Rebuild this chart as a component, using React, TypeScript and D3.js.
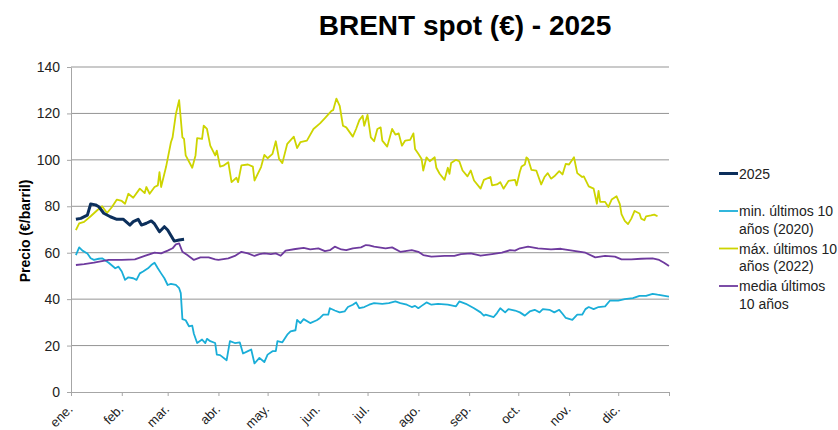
import React, { useEffect, useRef } from "react";
import * as d3 from "d3";

// Month labels (Spanish, as in the source chart)
const monthLabels = ["ene.", "feb.", "mar.", "abr.", "may.", "jun.", "jul.", "ago.", "sep.", "oct.", "nov.", "dic."];
const yTicks = [0, 20, 40, 60, 80, 100, 120, 140];

// Series: day of year (0 = 1 Jan) and price in €/barril
const days2025 = [3, 6, 10, 12, 15, 17, 20, 24, 28, 32, 36, 38, 41, 43, 46, 49, 51, 54, 57, 59, 63, 66, 69];
const values2025 = [74.4, 74.8, 76.2, 81, 80.6, 79.8, 77, 75.5, 74.4, 74.4, 71.9, 73.4, 74.4, 71.9, 72.7, 73.7, 72.4, 69, 71.2, 69.8, 65, 65.5, 65.8];

const daysMin = [3, 5, 7, 10, 12, 14, 17, 19, 23, 27, 29, 31, 33, 35, 38, 40, 42, 44, 47, 49, 51, 53, 55, 57, 59, 61, 64, 66, 67, 68, 70, 72, 74, 75, 77, 80, 82, 83, 85, 88, 89, 91, 95, 97, 100, 103, 105, 108, 110, 112, 115, 118, 120, 123, 125, 126, 129, 132, 134, 137, 138, 140, 142, 146, 150, 152, 154, 157, 158, 161, 164, 167, 169, 172, 174, 176, 179, 182, 185, 190, 194, 198, 201, 203, 205, 208, 210, 212, 214, 217, 220, 224, 230, 235, 237, 241, 246, 250, 252, 253, 258, 260, 262, 265, 267, 271, 274, 277, 280, 283, 286, 288, 292, 295, 298, 300, 302, 306, 309, 312, 314, 316, 319, 322, 326, 329, 334, 338, 343, 347, 351, 355, 358, 365];
const valuesMin = [59, 62.3, 60.9, 59.7, 57.6, 56.9, 57.4, 57.6, 55.7, 53.3, 54, 51.9, 48.3, 49.4, 49, 48.3, 51.1, 51.9, 53.3, 54.7, 55.7, 53.3, 51.1, 49, 46.1, 46.6, 46.1, 44.7, 42.6, 31.4, 30.9, 28.3, 28.6, 25.1, 21.1, 22.6, 21.1, 22.9, 21.9, 21.1, 16.1, 15.9, 13.7, 21.9, 21.1, 21.4, 16.6, 17.6, 18.3, 12.3, 14.7, 12.9, 16.1, 17.6, 17.6, 21.9, 21.4, 24.7, 26.1, 26.6, 31.1, 29.7, 31.4, 29.7, 30.9, 31.9, 33.3, 33.3, 36.1, 35.1, 34.3, 34.7, 36.6, 37.6, 38.6, 36.1, 36.6, 37.6, 38.3, 38, 38.3, 39, 38.3, 38, 37.6, 36.6, 37.1, 36.1, 37.1, 38.6, 37.6, 38, 37.6, 36.9, 39, 38, 36.1, 34.3, 32.9, 33.3, 32.3, 34, 36.1, 34.3, 35.7, 35.1, 34.3, 32.9, 34.7, 35.4, 34.3, 35.7, 35.4, 34.3, 35.4, 33.7, 31.9, 31.1, 33.3, 33.3, 35.7, 36.6, 35.7, 36.6, 36.9, 39.4, 39.4, 40, 40.4, 41.4, 41.4, 42.3, 41.9, 41.1];

const daysMax = [3, 5, 8, 12, 16, 19, 22, 25, 28, 31, 33, 35, 38, 42, 45, 46, 48, 51, 53, 54, 55, 58, 61, 62, 64, 66, 68, 69, 70, 74, 76, 77, 80, 81, 83, 85, 88, 89, 91, 93, 96, 98, 101, 102, 104, 108, 111, 112, 116, 118, 120, 123, 125, 127, 129, 132, 136, 138, 140, 144, 148, 152, 155, 159, 160, 162, 164, 166, 168, 172, 174, 176, 178, 179, 181, 183, 185, 187, 189, 190, 193, 196, 198, 200, 202, 204, 207, 209, 210, 212, 214, 215, 217, 219, 222, 223, 225, 228, 230, 231, 232, 235, 237, 239, 242, 244, 246, 250, 252, 256, 257, 260, 262, 264, 267, 271, 272, 274, 275, 277, 278, 279, 281, 284, 287, 289, 291, 293, 295, 298, 300, 302, 304, 307, 309, 312, 313, 316, 319, 321, 322, 323, 326, 328, 330, 333, 335, 336, 338, 340, 342, 344, 347, 348, 350, 351, 354, 356, 358];
const valuesMax = [69.7, 72.6, 73.3, 75.7, 78.3, 80, 77.1, 79.7, 82.9, 82.3, 81.1, 85.4, 83.7, 87.6, 85.7, 88.3, 85.4, 88.3, 89, 94.7, 88.3, 96.9, 107.6, 109.7, 119.7, 125.7, 109.7, 109, 101.9, 96.6, 101.9, 109.4, 109, 114.7, 113.3, 106.1, 101.9, 104, 97.1, 97.5, 99, 90.4, 92.3, 90.4, 97.6, 98, 97.1, 91.1, 96.9, 102.1, 100.7, 102.6, 108, 100.4, 98.6, 106.9, 110, 105.1, 107.6, 108.3, 113.3, 115.7, 118, 121.1, 121.4, 126.4, 123.3, 114.7, 114, 110, 113.3, 117.1, 119, 114.7, 119.4, 109.7, 108, 113.3, 114, 108.3, 105.7, 113.3, 110.9, 111.4, 106.1, 108.3, 108.6, 111.4, 104.7, 102.6, 100.4, 95.4, 101.1, 99.4, 101.1, 96.6, 94, 91.4, 96.6, 94, 98.6, 100, 99.4, 95.4, 92.9, 95.4, 91.1, 87.6, 91.4, 92.6, 89, 89.4, 90.4, 87.6, 90.9, 91.4, 89, 95, 97.1, 98, 101.1, 100.4, 95.7, 95.4, 89.4, 92.6, 94.3, 91.9, 92.9, 95.1, 93.7, 98.3, 98, 101.1, 94.3, 92.6, 92.9, 88.6, 87.6, 81.1, 86.6, 81.9, 81.9, 79.7, 82.9, 84.3, 80.9, 76.6, 73.7, 72.3, 74.7, 78, 76.9, 74.7, 74, 75.7, 76.1, 76.4, 75.7];

const daysMedia = [3, 8, 14, 23, 31, 39, 45, 51, 55, 59, 62, 64, 66, 68, 71, 75, 79, 84, 88, 90, 96, 100, 104, 108, 112, 115, 118, 122, 125, 128, 131, 137, 142, 146, 151, 155, 158, 161, 165, 168, 172, 177, 180, 182, 185, 192, 196, 201, 208, 212, 215, 220, 228, 234, 238, 244, 250, 257, 263, 268, 271, 274, 279, 285, 293, 299, 306, 314, 320, 326, 332, 336, 342, 348, 355, 359, 362, 365];
const valuesMedia = [54.7, 55.1, 55.7, 56.9, 56.9, 57.1, 58.6, 60, 59.7, 60.9, 61.9, 63.6, 64, 60.4, 59, 56.9, 58, 58, 57.1, 56.9, 57.6, 58.6, 60.4, 59.7, 58.6, 59.4, 59.7, 59.4, 59.7, 58.7, 60.9, 61.6, 62.1, 61.4, 61.9, 60.7, 61.1, 62.6, 61.4, 61.1, 61.9, 62.3, 63.3, 63.2, 62.6, 61.9, 62.3, 60.4, 61.1, 60.4, 59, 58.3, 58.6, 58.6, 59.4, 59.7, 58.7, 59.4, 60, 61.1, 60.9, 61.9, 62.6, 61.9, 61.4, 61.7, 60.9, 60, 58, 58.6, 58.3, 57.1, 57.1, 57.4, 57.6, 56.9, 55.7, 54.3];

const seriesNames = [["2025"], ["min. últimos 10", "años (2020)"], ["máx. últimos 10", "años (2022)"], ["media últimos", "10 años"]];
const seriesColors = ["#0c2f5b", "#1aaed8", "#cdd400", "#6e3a9e"];

const WIDTH = 838;
const HEIGHT = 430;
const FONT = "'Liberation Sans', Arial, sans-serif";

const App: React.FC = () => {
  const svgRef = useRef<SVGSVGElement>(null);

  useEffect(() => {
    document.body.style.margin = "0";
    if (!svgRef.current) return;
    const svg = d3.select(svgRef.current);
    svg.selectAll("*").remove();

    const start = new Date(2025, 0, 1);
    const end = new Date(2026, 0, 1);
    const dayToDate = (d: number) => new Date(2025, 0, 1 + d);

    const x = d3.scaleTime().domain([start, end]).range([71, 669]);
    const y = d3.scaleLinear().domain([0, 140]).range([392, 67]);

    // horizontal gridlines
    svg
      .append("g")
      .selectAll("line")
      .data(yTicks.filter((t) => t > 0))
      .enter()
      .append("line")
      .attr("x1", 71)
      .attr("x2", 669)
      .attr("y1", (d) => y(d))
      .attr("y2", (d) => y(d))
      .attr("stroke", "#959595")
      .attr("stroke-width", 1);

    // y axis
    const yAxis = svg
      .append("g")
      .attr("transform", "translate(71,0)")
      .call(d3.axisLeft(y).tickValues(yTicks).tickSize(4).tickSizeOuter(0).tickPadding(7));
    yAxis.select(".domain").attr("stroke", "#a6a6a6");
    yAxis.selectAll(".tick line").attr("stroke", "#a6a6a6");
    yAxis
      .selectAll("text")
      .style("font-family", FONT)
      .style("font-size", "14px")
      .attr("fill", "#222");

    // x axis
    const monthTicks = d3.timeMonth.range(start, d3.timeDay.offset(end, 1));
    const xAxis = svg
      .append("g")
      .attr("transform", "translate(0,392)")
      .call(
        d3
          .axisBottom(x)
          .tickValues(monthTicks)
          .tickSize(4)
          .tickSizeOuter(0)
          .tickFormat((d) => {
            const dt = d as Date;
            return dt.getFullYear() === 2025 ? monthLabels[dt.getMonth()] : "";
          })
      );
    xAxis.select(".domain").attr("stroke", "#a6a6a6");
    xAxis.selectAll(".tick line").attr("stroke", "#a6a6a6");
    xAxis
      .selectAll("text")
      .attr("x", null)
      .attr("y", null)
      .attr("dy", null)
      .attr("text-anchor", "end")
      .attr("transform", "translate(2,18) rotate(-45)")
      .style("font-family", FONT)
      .style("font-size", "13px")
      .attr("fill", "#222");

    // lines
    const line = d3
      .line<[number, number]>()
      .x((d) => x(dayToDate(d[0])))
      .y((d) => y(d[1]));

    const series: { days: number[]; values: number[]; width: number }[] = [
      { days: daysMin, values: valuesMin, width: 1.8 },
      { days: daysMax, values: valuesMax, width: 1.8 },
      { days: daysMedia, values: valuesMedia, width: 1.8 },
      { days: days2025, values: values2025, width: 3 },
    ];
    const colorIdx = [1, 2, 3, 0];

    series.forEach((s, i) => {
      const pts = s.days.map((d, j) => [d, s.values[j]] as [number, number]);
      svg
        .append("path")
        .datum(pts)
        .attr("d", line)
        .attr("fill", "none")
        .attr("stroke", seriesColors[colorIdx[i]])
        .attr("stroke-width", s.width)
        .attr("stroke-linejoin", "round");
    });

    // title
    svg
      .append("text")
      .attr("x", 465)
      .attr("y", 35)
      .attr("text-anchor", "middle")
      .style("font-family", FONT)
      .style("font-size", "28px")
      .style("font-weight", "bold")
      .text("BRENT spot (€) - 2025");

    // y axis title
    svg
      .append("text")
      .attr("transform", "translate(30,231) rotate(-90)")
      .attr("text-anchor", "middle")
      .style("font-family", FONT)
      .style("font-size", "14px")
      .style("font-weight", "bold")
      .text("Precio (€/barril)");

    // legend
    const legend = svg
      .selectAll(".legend-item")
      .data(seriesNames)
      .enter()
      .append("g")
      .attr("class", "legend-item")
      .attr("transform", (d, i) => `translate(719, ${173.5 + i * 37.5})`);

    legend
      .append("line")
      .attr("x1", 0)
      .attr("x2", 19)
      .attr("stroke", (d, i) => seriesColors[i])
      .attr("stroke-width", (d, i) => (i === 0 ? 3 : 1.8));

    legend
      .append("text")
      .attr("x", 20)
      .style("font-family", FONT)
      .style("font-size", "14px")
      .attr("fill", "#222")
      .selectAll("tspan")
      .data((d) => d)
      .enter()
      .append("tspan")
      .attr("x", 20)
      .attr("y", (d, i) => 5 + i * 17.5)
      .text((d) => d);
  }, []);

  return <svg ref={svgRef} width={WIDTH} height={HEIGHT} style={{ display: "block", background: "#fff" }} />;
};

export default App;
